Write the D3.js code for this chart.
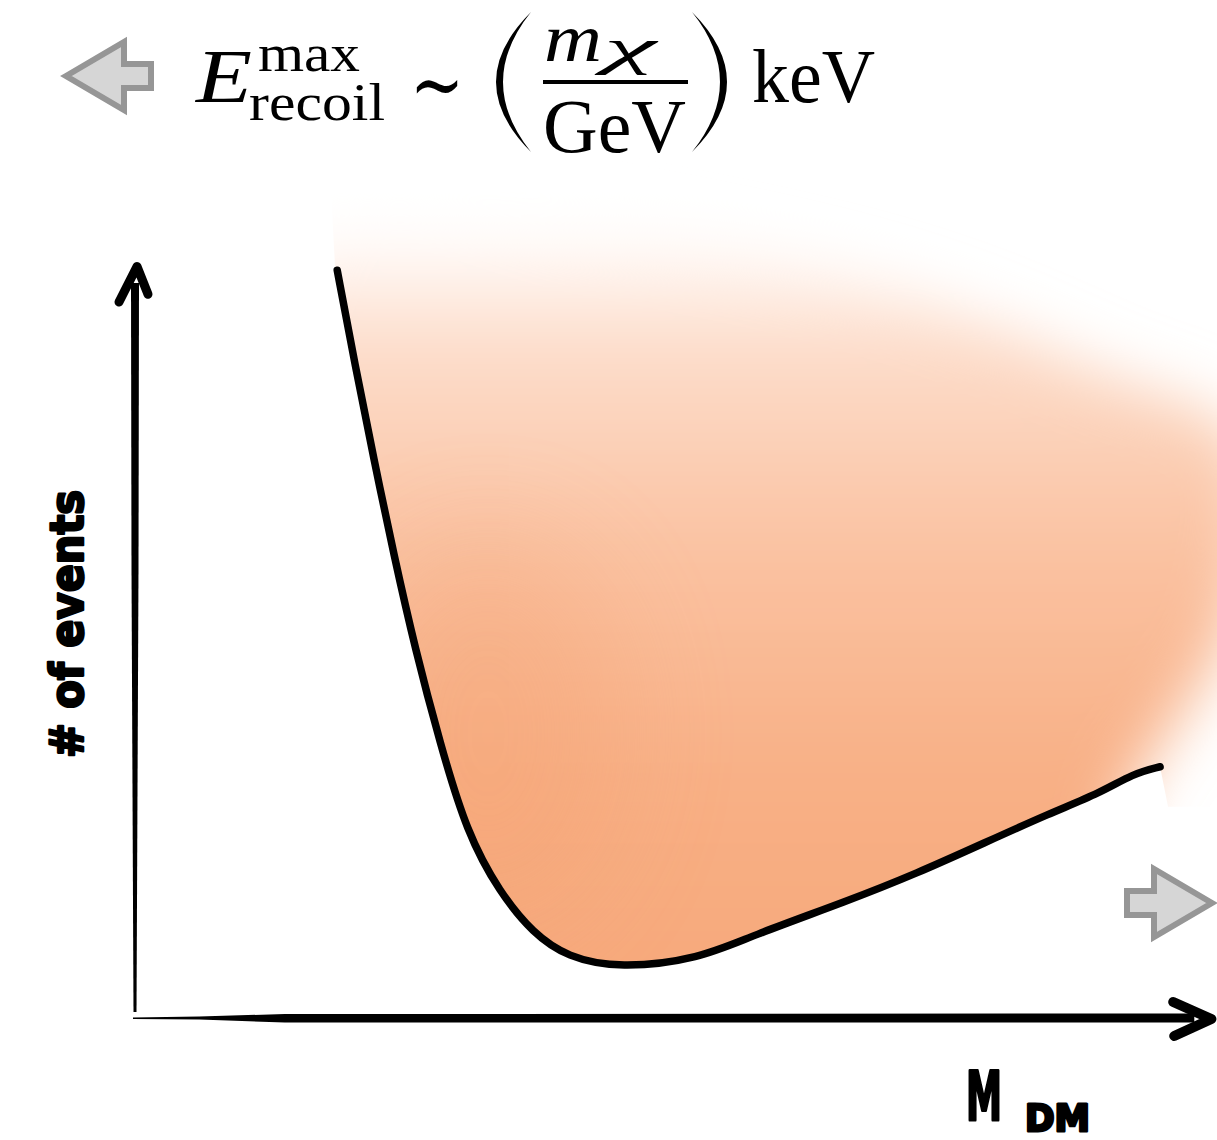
<!DOCTYPE html>
<html>
<head>
<meta charset="utf-8">
<script src="https://cdn.jsdelivr.net/npm/d3@7"></script>
<style>
  html, body { margin: 0; padding: 0; background: #ffffff; }
  svg { display: block; }
</style>
</head>
<body>
<div id="chart"></div>
<script>
// Event-rate sketch: number of events versus dark-matter mass (arbitrary units 0-100).
const massValues  = [18.9, 20.56, 22.34, 24.2, 26.2, 28.5, 31.0, 34.1, 37.2, 40.4, 45.3, 52.8, 57.5, 66.6, 73.1, 79.3, 85.5, 90.2, 93.3, 95.8];
const eventValues = [99.7, 87.1, 74.4, 61.7, 49.1, 36.7, 24.7, 16.7, 11.3, 8.1, 6.6, 7.9, 10.9, 15.6, 19.3, 23.3, 27.3, 30.0, 32.6, 33.5];

// Upper edge of the shaded (allowed) region, which fades out towards the top and right.
const glowMass   = [18.7, 43.5, 71.5, 90.2, 103.3, 102.5, 97.5, 93.0];
const glowEvents = [110.4, 105.7, 96.9, 86.4, 77.1, 52.0, 40.0, 30.0];

const axisLabelX = ["M", "DM"];
const axisLabelY = "# of events";

const W = 1217, H = 1140;
const svg = d3.select("#chart").append("svg").attr("width", W).attr("height", H);

const x = d3.scaleLinear().domain([0, 100]).range([135, 1205]);
const y = d3.scaleLinear().domain([0, 100]).range([1018, 268]);

const curvePts = massValues.map((m, i) => [x(m), y(eventValues[i])]);
const line = d3.line().curve(d3.curveBasis);

const defs = svg.append("defs");

// vertical colour ramp of the shaded region
const grad = defs.append("linearGradient").attr("id", "fillRamp")
  .attr("gradientUnits", "userSpaceOnUse")
  .attr("x1", 0).attr("y1", y(2)).attr("x2", 0).attr("y2", y(105));
[[0, "#f7a87a"], [0.3, "#f8b086"], [0.6, "#fac3a3"], [0.85, "#fdddcb"], [1, "#ffffff"]]
  .forEach(([o, c]) => grad.append("stop").attr("offset", o).attr("stop-color", c));

defs.append("filter").attr("id", "soft").attr("x", "-30%").attr("y", "-30%").attr("width", "160%").attr("height", "160%")
  .append("feGaussianBlur").attr("stdDeviation", 30);
defs.append("filter").attr("id", "softer").attr("x", "-50%").attr("y", "-50%").attr("width", "200%").attr("height", "200%")
  .append("feGaussianBlur").attr("stdDeviation", 60);

// clip: everything above/right of the curve
const curveD = line(curvePts);
const last = curvePts[curvePts.length - 1];
const first = curvePts[0];
const clipD = curveD +
  `L${last[0] + 8},${last[1] + 40}L${W + 30},${last[1] + 40}L${W + 30},120L${first[0] - 10},120L${first[0] - 2},${first[1]}Z`;
defs.append("clipPath").attr("id", "aboveCurve").append("path").attr("d", clipD);

// shaded region: glow envelope on top, extended well below the curve (clipped away)
const glowTop = glowMass.map((m, i) => [x(m), y(glowEvents[i])]);
const glowPoly = glowTop.concat([[x(85), y(-15)], [x(17), y(-15)]]);
const shade = svg.append("g").attr("clip-path", "url(#aboveCurve)");
shade.append("path")
  .attr("d", d3.line().curve(d3.curveCatmullRomClosed.alpha(0.5))(glowPoly))
  .attr("fill", "url(#fillRamp)")
  .attr("filter", "url(#soft)");
// slightly deeper tone in the lower-left part of the region
shade.append("ellipse")
  .attr("cx", x(33)).attr("cy", y(38)).attr("rx", 130).attr("ry", 190)
  .attr("fill", "#f39c6a").attr("opacity", 0.3).attr("filter", "url(#softer)");

// the event-rate curve
svg.append("path").attr("d", curveD)
  .attr("fill", "none").attr("stroke", "#000").attr("stroke-width", 7.5)
  .attr("stroke-linecap", "round").attr("stroke-linejoin", "round");

// axes drawn as tapered marker strokes
const x0 = x(0), y0 = y(0);
// y axis
svg.append("path")
  .attr("d", `M${x0 - 1.5},${y0 - 6}L${x0 - 3.5},${y(60)}L${x0 - 4},${y(98)}L${x0 + 4},${y(98)}L${x0 + 3.5},${y(60)}L${x0 + 1.5},${y0 - 6}Z`)
  .attr("fill", "#000");
svg.append("path")
  .attr("d", `M${x0 - 16},${y(96) + 4}L${x0 + 2},${y(100.2)}L${x0 + 13},${y(96.5)}`)
  .attr("fill", "none").attr("stroke", "#000").attr("stroke-width", 9)
  .attr("stroke-linecap", "round").attr("stroke-linejoin", "round");
// x axis
svg.append("path")
  .attr("d", `M${x0 - 2},${y0 - 0.5}L${x(6)},${y0 - 1.5}L${x(14)},${y0 - 4}L${x(99)},${y0 - 4.5}` +
             `L${x(99)},${y0 + 4.5}L${x(14)},${y0 + 4.5}L${x(6)},${y0 + 1.5}L${x0 - 2},${y0 + 1}Z`)
  .attr("fill", "#000");
svg.append("path")
  .attr("d", `M${x(98.9) - 20},${y0 - 16}L${x(100.6)},${y0 + 1}L${x(98.9) - 19},${y0 + 18}`)
  .attr("fill", "none").attr("stroke", "#000").attr("stroke-width", 10)
  .attr("stroke-linecap", "round").attr("stroke-linejoin", "round");

// hand-lettered axis labels
const hand = "'DejaVu Sans', sans-serif";
svg.append("text")
  .attr("transform", "translate(83,758) rotate(-90)")
  .attr("font-family", hand).attr("font-weight", "bold").attr("font-size", 46)
  .attr("textLength", 268).attr("lengthAdjust", "spacingAndGlyphs")
  .attr("stroke", "#000").attr("stroke-width", 2.5).attr("stroke-linejoin", "round")
  .text(axisLabelY);
svg.append("text").attr("x", 966).attr("y", 1120)
  .attr("font-family", hand).attr("font-weight", "bold").attr("font-size", 68)
  .attr("stroke", "#000").attr("stroke-width", 3).attr("stroke-linejoin", "round")
  .attr("textLength", 36).attr("lengthAdjust", "spacingAndGlyphs").text(axisLabelX[0]);
svg.append("text").attr("x", 1025).attr("y", 1131)
  .attr("font-family", hand).attr("font-weight", "bold").attr("font-size", 38)
  .attr("stroke", "#000").attr("stroke-width", 3).attr("stroke-linejoin", "round")
  .attr("textLength", 65).attr("lengthAdjust", "spacingAndGlyphs").text(axisLabelX[1]);

// gray direction arrows
function blockArrow(tipX, tipY, dir) {
  const headLen = 58, headHalf = 34, shaftLen = 27, shaftHalf = 12;
  const pts = [
    [0, 0], [headLen, -headHalf], [headLen, -shaftHalf], [headLen + shaftLen, -shaftHalf],
    [headLen + shaftLen, shaftHalf], [headLen, shaftHalf], [headLen, headHalf]
  ].map(([a, b]) => [tipX - dir * a, tipY + b]);
  svg.append("polygon").attr("points", pts.map(p => p.join(",")).join(" "))
    .attr("fill", "#d6d6d6").attr("stroke", "#969696").attr("stroke-width", 6)
    .attr("stroke-linejoin", "miter");
}
blockArrow(66, 76, -1);
blockArrow(1212, 903, 1);

// formula: E_recoil^max ~ (m_chi / GeV) keV
const serif = "'Liberation Serif', 'Times New Roman', serif";
const f = svg.append("g").attr("font-family", serif).attr("fill", "#000");
f.append("text").attr("x", 196).attr("y", 102).attr("font-size", 76).attr("font-style", "italic")
  .attr("textLength", 56).attr("lengthAdjust", "spacingAndGlyphs").text("E");
f.append("text").attr("x", 258).attr("y", 71).attr("font-size", 52)
  .attr("textLength", 102).attr("lengthAdjust", "spacingAndGlyphs").text("max");
f.append("text").attr("x", 249).attr("y", 120).attr("font-size", 52)
  .attr("textLength", 136).attr("lengthAdjust", "spacingAndGlyphs").text("recoil");
f.append("text").attr("x", 410).attr("y", 84).attr("font-size", 84).attr("font-family", "'DejaVu Serif', serif")
  .attr("dominant-baseline", "central")
  .attr("textLength", 54).attr("lengthAdjust", "spacingAndGlyphs").text("∼");
f.append("text").attr("x", 544).attr("y", 61).attr("font-size", 68).attr("font-style", "italic")
  .attr("textLength", 58).attr("lengthAdjust", "spacingAndGlyphs").text("m");
f.append("text").attr("x", 604).attr("y", 64).attr("font-size", 50).attr("font-style", "italic")
  .attr("textLength", 52).attr("lengthAdjust", "spacingAndGlyphs").text("χ");
f.append("rect").attr("x", 543).attr("y", 80).attr("width", 145).attr("height", 4);
f.append("text").attr("x", 543).attr("y", 152).attr("font-size", 76)
  .attr("textLength", 143).attr("lengthAdjust", "spacingAndGlyphs").text("GeV");
f.append("text").attr("x", 752).attr("y", 102).attr("font-size", 76)
  .attr("textLength", 123).attr("lengthAdjust", "spacingAndGlyphs").text("keV");
// large delimiters
f.append("path").attr("d", "M531,12Q461,82 531,152Q475,82 531,12Z");
f.append("path").attr("d", "M692,12Q762,82 692,152Q748,82 692,12Z");
</script>
</body>
</html>
